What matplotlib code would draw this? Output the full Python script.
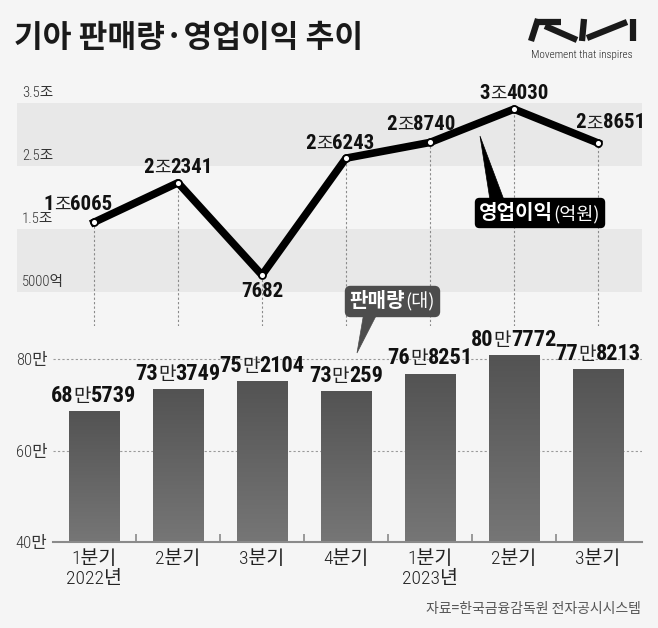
import matplotlib
matplotlib.use('Agg')
import matplotlib.pyplot as plt
import numpy as np
from matplotlib.offsetbox import TextArea, HPacker, AnnotationBbox
from matplotlib.patches import Polygon
from matplotlib.lines import Line2D
from matplotlib.colors import LinearSegmentedColormap
import matplotlib.transforms as mtrans

# ---------------- data ----------------
quarters = ['1분기\n2022년', '2분기', '3분기', '4분기', '1분기\n2023년', '2분기', '3분기']
profit = [16065, 22341, 7682, 26243, 28740, 34030, 28651]          # 억원
sales = [685739, 733749, 752104, 730259, 768251, 807772, 778213]   # 대
profit_ticks = [35000, 25000, 15000, 5000]
profit_ticklabels = ['3.5조', '2.5조', '1.5조', '5000억']
sales_ticks = [400000, 600000, 800000]
sales_ticklabels = ['40만', '60만', '80만']

title = '기아 판매량·영업이익 추이'
source = '자료=한국금융감독원 전자공시시스템'

CJK = 'Noto Sans CJK KR'
COND = 'Roboto Condensed'
plt.rcParams['font.family'] = [COND, CJK, 'DejaVu Sans']

W, H = 658, 628
BG = '#f5f5f5'
fig = plt.figure(figsize=(W / 100, H / 100), dpi=100, facecolor=BG)


def fx(px):
    return px / W


def fy(py):
    return 1 - py / H


# ---------------- line (operating profit) axes ----------------
L_LEFT, L_RIGHT, L_TOP, L_BOT = 17, 642, 85, 326
PX_PER_UNIT = 63 / 10000.0   # pixels per 억
REF_V, REF_P = 35000, 103
X0, DX = 94, 84

ax1 = fig.add_axes([fx(L_LEFT), fy(L_BOT), (L_RIGHT - L_LEFT) / W, (L_BOT - L_TOP) / H])
ax1.set_facecolor('none')
y_top = REF_V + (REF_P - L_TOP) / PX_PER_UNIT
y_bot = REF_V - (L_BOT - REF_P) / PX_PER_UNIT
ax1.set_ylim(y_bot, y_top)
ax1.set_xlim((L_LEFT - X0) / DX, (L_RIGHT - X0) / DX)
for s in ax1.spines.values():
    s.set_visible(False)
ax1.set_xticks([])
ax1.set_yticks([])

ax1.axhspan(profit_ticks[1], profit_ticks[0], color='#e8e8e8', zorder=0, lw=0)
ax1.axhspan(profit_ticks[3], profit_ticks[2], color='#e8e8e8', zorder=0, lw=0)

xs = np.arange(len(profit))
ax1.vlines(xs, y_bot, profit, colors='#8a8a8a', linestyles=(0, (2, 2)), lw=0.8, zorder=1)
ax1.plot(xs, profit, color='black', lw=5.5, solid_joinstyle='round', zorder=3)
ax1.plot(xs, profit, 'o', mfc='white', mec='black', ms=5, mew=1.3, zorder=4)

blend1 = mtrans.blended_transform_factory(ax1.transAxes, ax1.transData)
for v, lab in zip(profit_ticks, profit_ticklabels):
    ax1.annotate(lab, xy=((22 - L_LEFT) / (L_RIGHT - L_LEFT), v), xycoords=blend1,
                 xytext=(0, 2), textcoords='offset points', ha='left', va='bottom',
                 fontsize=10.5, color='#333', family=[COND, CJK], fontweight='light')


def split_label(v, unit):
    big, rest = divmod(v, 10000)
    if big:
        return [(str(big), True), (unit, False), (str(rest), True)]
    return [(str(rest), True)]


def make_label(parts, size, color='#111', unit_scale=0.86):
    areas = []
    for txt, bold in parts:
        if bold:
            tp = dict(family=[COND], fontweight='bold', fontsize=size, color=color)
        else:
            tp = dict(family=[CJK], fontweight='normal', fontsize=size * unit_scale,
                      color='#222')
        areas.append(TextArea(txt, textprops=tp))
    return HPacker(children=areas, align='baseline', pad=0, sep=0)


# label offsets (pixels) of the label centre relative to each point
p_off = [(-16, 18), (0, 15), (0, -16), (-6, 15), (-9, 18), (0, 16), (12, 20)]
for i, v in enumerate(profit):
    box = make_label(split_label(v, '조'), 15)
    dx, dy = p_off[i]
    ab = AnnotationBbox(box, (i, v), xybox=(dx * 0.72, dy * 0.72), xycoords='data',
                        boxcoords='offset points', box_alignment=(0.5, 0.5),
                        frameon=False, pad=0, zorder=5)
    ax1.add_artist(ab)

# ---------------- bar (sales) axes ----------------
B_LEFT, B_RIGHT, B_TOP, B_BOT = 53, 642, 345, 542
PX_PER_SALE = 91.5 / 200000.0
ax2 = fig.add_axes([fx(B_LEFT), fy(B_BOT), (B_RIGHT - B_LEFT) / W, (B_BOT - B_TOP) / H])
ax2.set_facecolor('none')
ylo = sales_ticks[0]
yhi = ylo + (B_BOT - B_TOP) / PX_PER_SALE
xl = ((B_LEFT - X0) / DX, (B_RIGHT - X0) / DX)

bars = ax2.bar(xs, sales, width=51 / DX, color='#606060', zorder=2, lw=0)
grad = np.linspace(0, 1, 256).reshape(-1, 1)
cmap = LinearSegmentedColormap.from_list('g', ['#767676', '#535353'])
for b in bars:
    x0, w, h = b.get_x(), b.get_width(), b.get_height()
    im = ax2.imshow(grad, extent=[x0, x0 + w, ylo, b.get_y() + h], origin='lower', cmap=cmap,
                    aspect='auto', zorder=2.5, interpolation='bilinear')
    im.set_clip_path(b)

ax2.set_xlim(*xl)
ax2.set_ylim(ylo, yhi)
for k in ['left', 'right', 'top']:
    ax2.spines[k].set_visible(False)
ax2.spines['bottom'].set_color('#8a8a8a')
ax2.spines['bottom'].set_linewidth(1.5)
ax2.spines['bottom'].set_zorder(3)

ax2.set_yticks(sales_ticks, sales_ticklabels)
ax2.tick_params(axis='y', length=0, pad=4, labelsize=12, labelcolor='#333')
for t in ax2.get_yticklabels():
    t.set_family([COND, CJK])
    t.set_fontweight('light')
ax2.grid(axis='y', color='#9a9a9a', ls=(0, (2, 2)), lw=0.8, zorder=1)

ax2.set_xticks(xs, quarters)
ax2.tick_params(axis='x', which='major', length=0, pad=6, labelsize=14, labelcolor='#222')
for t in ax2.get_xticklabels():
    t.set_family([COND, CJK])
    t.set_fontweight('light')
    t.set_linespacing(1.1)
ax2.set_xticks(np.arange(len(sales) - 1) + 0.5, minor=True)
ax2.tick_params(axis='x', which='minor', direction='in', length=6, width=1.2, color='#8a8a8a')

for i, v in enumerate(sales):
    box = make_label(split_label(v, '만'), 16)
    ab = AnnotationBbox(box, (i, v), xybox=(0, 3), xycoords='data',
                        boxcoords='offset points', box_alignment=(0.5, 0),
                        frameon=False, pad=0, zorder=5)
    ax2.add_artist(ab)


# ---------------- callouts ----------------
def callout(parts, cx, cy, fc, size):
    areas = []
    for txt, bold in parts:
        tp = dict(family=[CJK], fontweight='bold' if bold else 'normal',
                  fontsize=size if bold else size * 0.92, color='white')
        areas.append(TextArea(txt, textprops=tp))
    pk = HPacker(children=areas, align='baseline', pad=0, sep=0)
    ab = AnnotationBbox(pk, (fx(cx), fy(cy)), xycoords='figure fraction',
                        box_alignment=(0.5, 0.5), frameon=True, pad=0.3,
                        bboxprops=dict(boxstyle='round,pad=0.3,rounding_size=0.3',
                                       fc=fc, ec=fc), zorder=10)
    fig.add_artist(ab)


def pointer(pts, fc):
    poly = Polygon([(fx(a), fy(b)) for a, b in pts], closed=True, fc=fc, ec=fc, lw=0.5,
                   transform=fig.transFigure, zorder=9)
    fig.add_artist(poly)


pointer([(490, 200), (504, 200), (480, 136)], 'black')
callout([('영업이익', True), ('(억원)', False)], 539.5, 212.5, 'black', 14.5)
pointer([(364, 312), (378, 312), (357, 353)], '#4d4d4d')
callout([('판매량', True), ('(대)', False)], 392, 301, '#4d4d4d', 14.5)

# ---------------- title, logo, source ----------------
fig.text(fx(14), fy(38), title, fontsize=22.5, fontweight='bold', family=[CJK],
         color='#1a1a1a', ha='left', va='center')

logo_strokes = [
    [(531, 41), (538, 19)],
    [(537, 22), (561, 22)],
    [(545, 26), (577, 40)],
    [(582, 41), (584, 19)],
    [(587, 38), (627, 22)],
    [(633, 19), (633, 41)],
]
for path in logo_strokes:
    fig.add_artist(Line2D([fx(a) for a, b in path], [fy(b) for a, b in path],
                          color='#1a1a1a', lw=4.5, solid_capstyle='butt',
                          transform=fig.transFigure))
fig.text(fx(582), fy(55), 'Movement that inspires', fontsize=8, family=[COND],
         fontweight='light', color='#222', ha='center', va='center')

fig.text(fx(641), fy(609), source, fontsize=10, family=[CJK], color='#555',
         ha='right', va='center')

fig.savefig('out.png', dpi=100, facecolor=BG)
